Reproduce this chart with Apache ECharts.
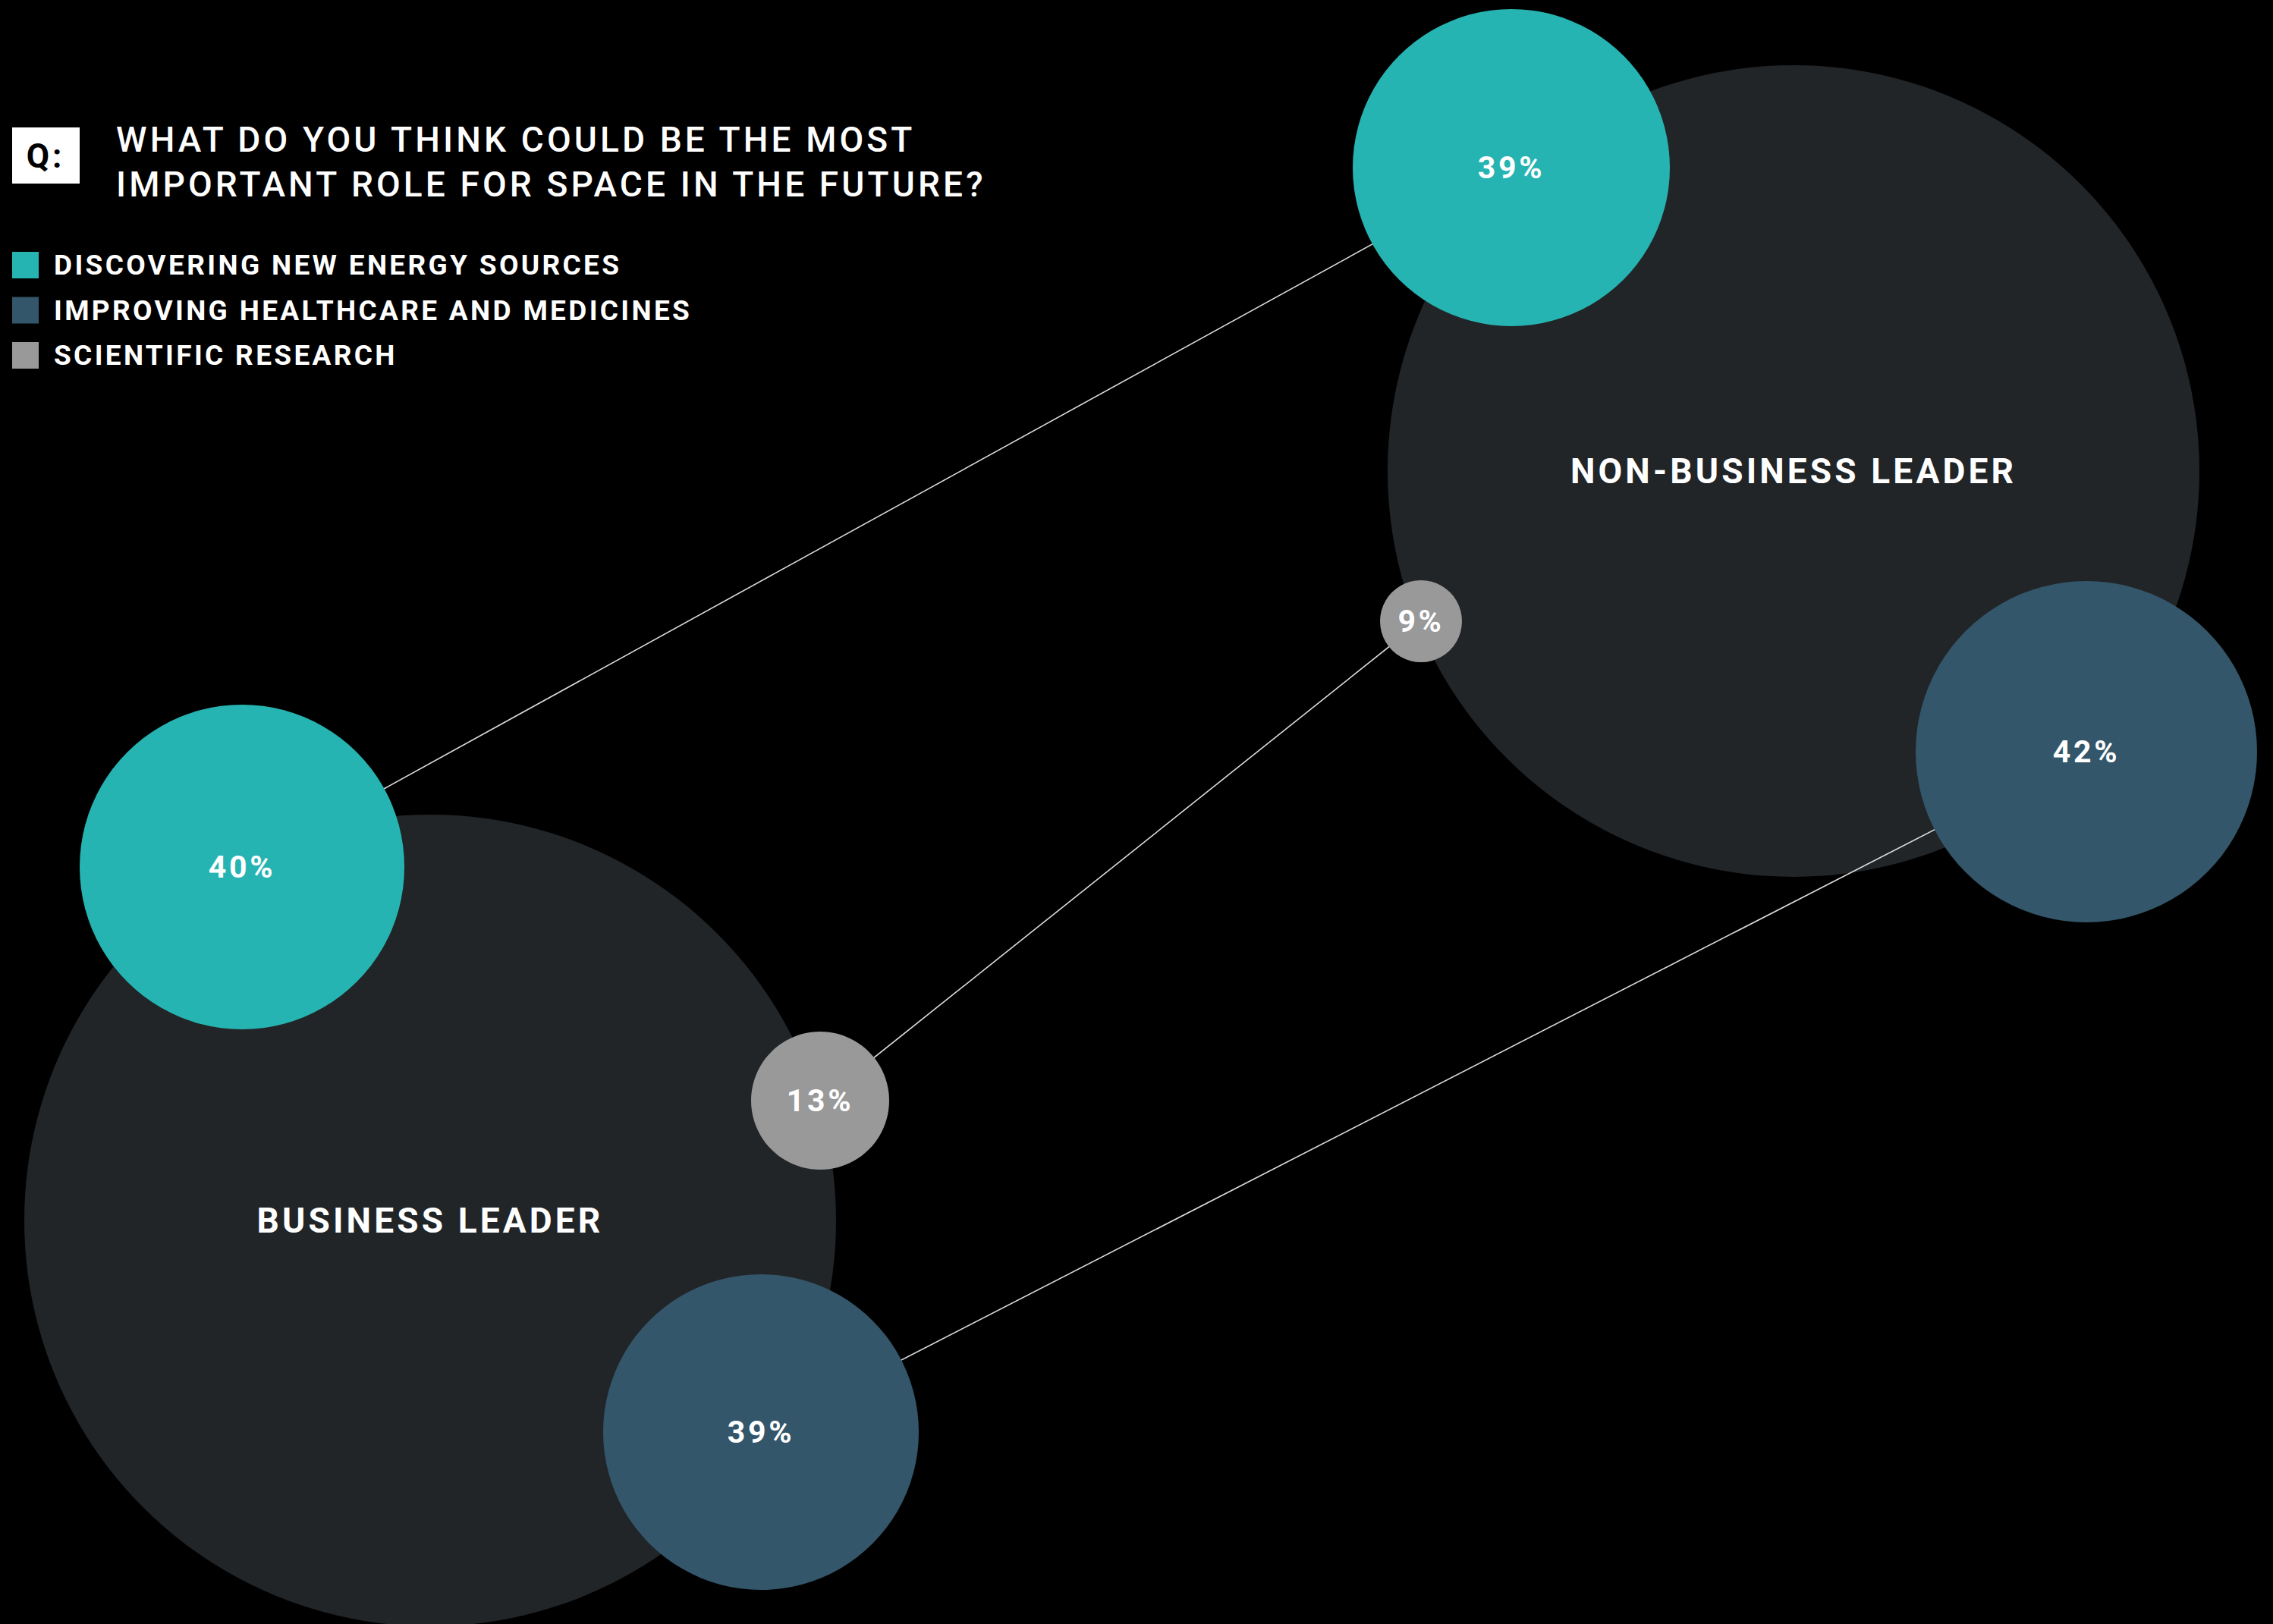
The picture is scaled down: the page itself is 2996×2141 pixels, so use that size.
<!DOCTYPE html>
<html>
<head>
<meta charset="utf-8">
<script src="https://cdn.jsdelivr.net/npm/echarts@6/dist/echarts.min.js"></script>
<style>
  html, body { margin: 0; padding: 0; background: #000; }
  #main { width: 2996px; height: 2141px; }
  /* DIN-like tracking on every label */
  #main text { letter-spacing: 0.09em; }
</style>
</head>
<body>
<div id="main"></div>
<script>
    // data
    var groups = ['BUSINESS LEADER', 'NON-BUSINESS LEADER'];
    var roles = ['DISCOVERING NEW ENERGY SOURCES', 'IMPROVING HEALTHCARE AND MEDICINES', 'SCIENTIFIC RESEARCH'];
    var energyValues = [40, 39];      // business, non-business
    var healthcareValues = [39, 42];
    var researchValues = [13, 9];

    // layout (canvas pixel units on hidden axes) - not data
    var groupPos = [[567, 1609], [2364, 621]];
    var groupRadius = 535;
    var energyPos = [[319, 1143], [1992, 221]];
    var energyRadius = [214, 209];
    var healthcarePos = [[1003, 1888], [2750, 991]];
    var healthcareRadius = [208, 225];
    var researchPos = [[1081, 1451], [1873, 819]];
    var researchRadius = [91, 54];

    var colors = {
        energy: '#26b4b2',
        healthcare: '#33566a',
        research: '#999999',
        group: '#212528',
        link: '#dcdcdc'
    };

    var chartDom = document.getElementById('main');
    var myChart = echarts.init(chartDom, null, { renderer: 'svg' });

    function bubbleSeries(name, values, pos, radius, color) {
        return {
            name: name,
            type: 'scatter',
            z: 3,
            silent: true,
            clip: false,
            symbol: 'circle',
            data: values.map(function (v, i) { return [pos[i][0], pos[i][1], v]; }),
            symbolSize: function (val, params) { return radius[params.dataIndex] * 2; },
            itemStyle: { color: color, opacity: 1 },
            label: {
                show: true,
                position: 'inside',
                formatter: function (p) { return p.value[2] + '%'; },
                color: '#ffffff',
                fontSize: 41,
                fontWeight: 'bold',
                fontFamily: 'Roboto'
            },
            emphasis: { disabled: true }
        };
    }

    function linkSeries(name, pos) {
        return {
            name: name,
            type: 'line',
            z: 2,
            silent: true,
            symbol: 'none',
            data: pos.map(function (p) { return [p[0], p[1]]; }),
            lineStyle: { color: colors.link, width: 1.6 },
            emphasis: { disabled: true }
        };
    }

    var option = {
        backgroundColor: '#000000',
        animation: false,
        grid: { left: 0, right: 0, top: 0, bottom: 0 },
        xAxis: { type: 'value', min: 0, max: 2996, show: false },
        yAxis: { type: 'value', min: 0, max: 2141, inverse: true, show: false },
        title: {
            text: 'WHAT DO YOU THINK COULD BE THE MOST\nIMPORTANT ROLE FOR SPACE IN THE FUTURE?',
            left: 153,
            top: 154,
            padding: 0,
            textStyle: {
                color: '#ffffff',
                fontSize: 46,
                fontWeight: 500,
                lineHeight: 59,
                fontFamily: 'Roboto'
            }
        },
        graphic: [{
            type: 'group',
            left: 16,
            top: 168,
            children: [
                { type: 'rect', shape: { x: 0, y: 0, width: 89, height: 74 }, style: { fill: '#ffffff' } },
                {
                    type: 'text', x: 44, y: 38,
                    style: { text: 'Q:', fill: '#000000', font: 'bold 44px Roboto', align: 'center', verticalAlign: 'middle' }
                }
            ]
        }],
        legend: {
            data: roles,
            orient: 'vertical',
            left: 16,
            top: 331,
            padding: 0,
            itemWidth: 35,
            itemHeight: 35,
            itemGap: 22.5,
            icon: 'rect',
            selectedMode: false,
            textStyle: {
                color: '#ffffff',
                fontSize: 37,
                fontWeight: 'bold',
                lineHeight: 35,
                fontFamily: 'Roboto',
                padding: [0, 0, 0, 15]
            }
        },
        series: [
            {
                name: 'groups',
                type: 'scatter',
                z: 1,
                silent: true,
                clip: false,
                symbol: 'circle',
                symbolSize: groupRadius * 2,
                data: groups.map(function (g, i) { return [groupPos[i][0], groupPos[i][1], g]; }),
                itemStyle: { color: colors.group, opacity: 1 },
                label: {
                    show: true,
                    position: 'inside',
                    formatter: function (p) { return p.value[2]; },
                    color: '#ffffff',
                    fontSize: 46,
                    fontWeight: 'bold',
                    fontFamily: 'Roboto'
                },
                emphasis: { disabled: true }
            },
            linkSeries('energy link', energyPos),
            linkSeries('healthcare link', healthcarePos),
            linkSeries('research link', researchPos),
            bubbleSeries(roles[0], energyValues, energyPos, energyRadius, colors.energy),
            bubbleSeries(roles[1], healthcareValues, healthcarePos, healthcareRadius, colors.healthcare),
            bubbleSeries(roles[2], researchValues, researchPos, researchRadius, colors.research)
        ]
    };

    myChart.setOption(option);
</script>
</body>
</html>
